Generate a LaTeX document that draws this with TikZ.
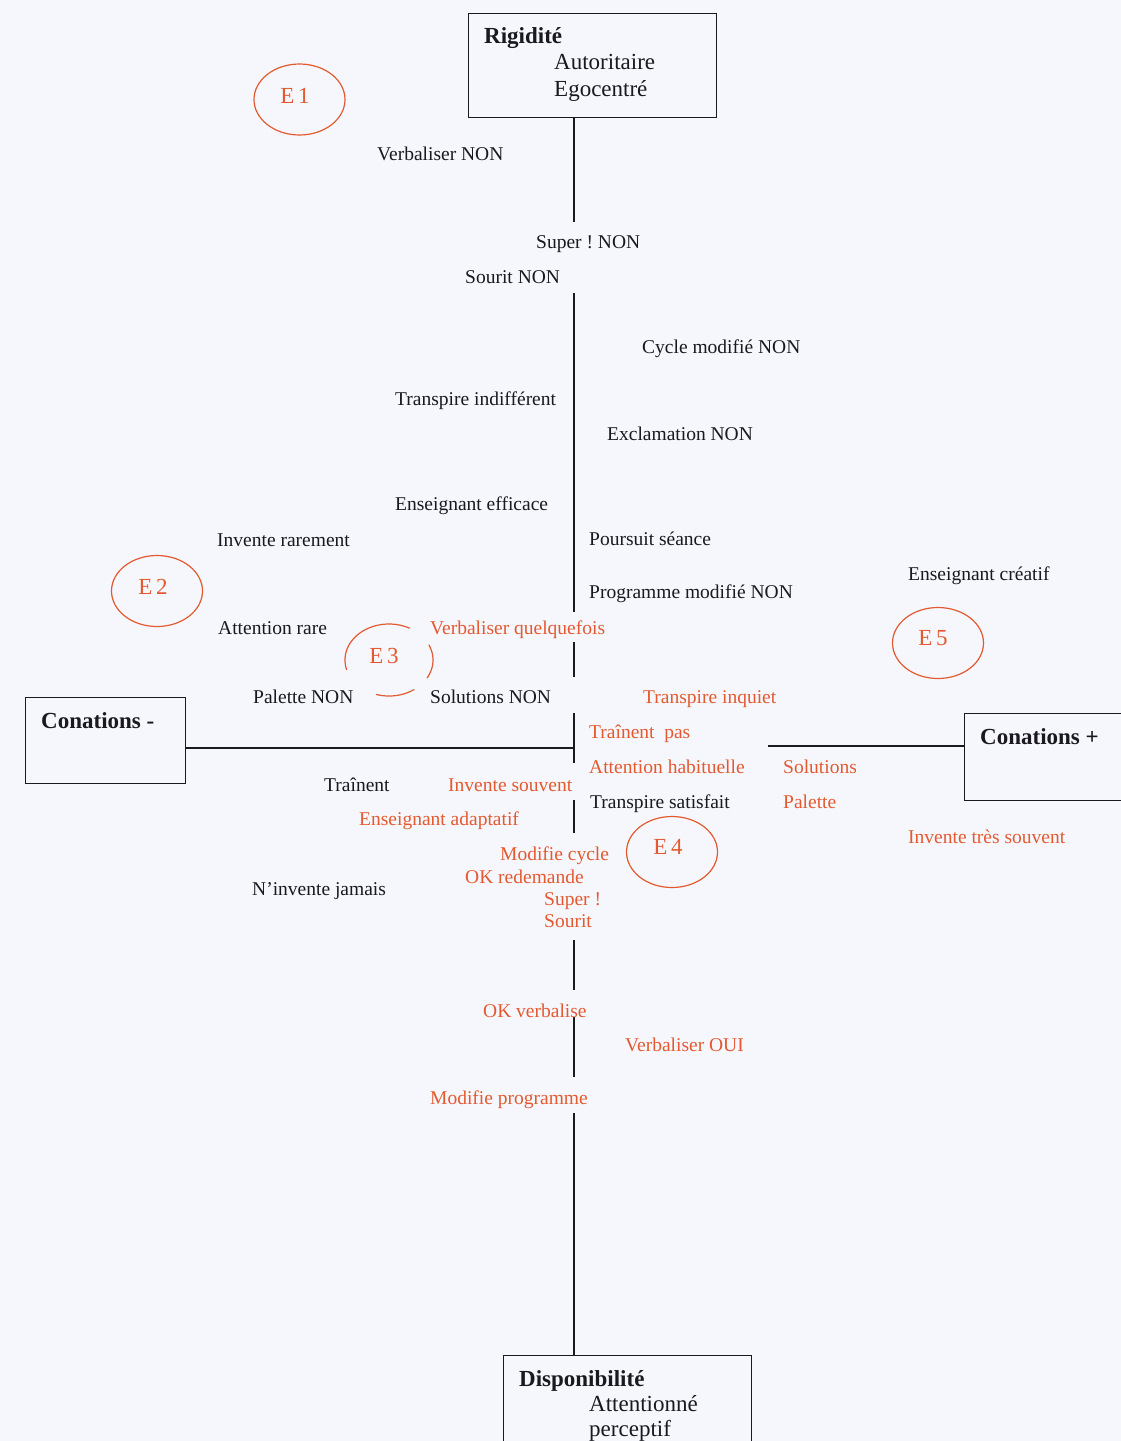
\documentclass[tikz,border=0pt]{standalone}
\usepackage{fontspec}
\setmainfont{Liberation Serif}
\usetikzlibrary{shapes.geometric,calc}
\definecolor{org}{RGB}{228,90,48}
\definecolor{bgc}{RGB}{245,247,252}
\definecolor{ink}{RGB}{25,25,30}
\frenchspacing
\begin{document}
\begin{tikzpicture}[x=1pt,y=-1pt,
  lbl/.style={anchor=base west,inner sep=0pt,font=\fontsize{19.5}{22}\selectfont},
  blk/.style={lbl,text=ink},
  orn/.style={lbl,text=org},
  boxt/.style={anchor=base west,inner sep=0pt,text=ink,font=\fontsize{23}{26}\selectfont},
  boxb/.style={boxt,font=\fontsize{23}{26}\selectfont\bfseries},
  frame/.style={draw=ink,line width=1.2pt,inner sep=0pt,anchor=north west},
  axis/.style={draw=ink,line width=1.3pt},
  ering/.style={draw=org,line width=1.2pt,ellipse,inner sep=0pt,minimum width=91,minimum height=71},
  etext/.style={inner sep=0pt,text=org,font=\fontsize{23}{26}\selectfont},
  earc/.style={draw=org,line width=1.2pt}
]
\clip (0,0) rectangle (1121,1441);
\fill[bgc] (0,0) rectangle (1121,1441);

% boxes
\node[frame,minimum width=248,minimum height=104] (rig) at (468,13) {};
\node[frame,minimum width=160,minimum height=86] (conm) at (25,697) {};
\node[frame,minimum width=170,minimum height=87] (conp) at (964,713) {};
\node[frame,minimum width=248,minimum height=120] (disp) at (503,1355) {};

\node[boxb] (rigT) at (484,43) {Rigidité};
\node[boxt] (rigA) at (554,69) {Autoritaire};
\node[boxt] (rigE) at (554,96) {Egocentré};
\node[boxb] (conmT) at (41,728) {Conations -};
\node[boxb] (conpT) at (980,744) {Conations +};
\node[boxb] (dispT) at (519,1386) {Disponibilité};
\node[boxt] (dispA) at (589,1411) {Attentionné};
\node[boxt] (dispP) at (589,1436) {perceptif};

% axis coordinates
\coordinate (ax) at (574,0);
\coordinate (v1) at (574,222);
\coordinate (v2a) at (574,293);
\coordinate (v2b) at (574,612);
\coordinate (v3a) at (574,642);
\coordinate (v3b) at (574,677);
\coordinate (v4a) at (574,713);
\coordinate (v4b) at (574,763);
\coordinate (v5a) at (574,800);
\coordinate (v5b) at (574,833);
\coordinate (v6a) at (574,940);
\coordinate (v6b) at (574,990);
\coordinate (v7a) at (574,1017);
\coordinate (v7b) at (574,1077);
\coordinate (v8a) at (574,1113);
\coordinate (hc) at (574,748);
\coordinate (hr) at (768,746);

\draw[axis] (rig.south -| ax) -- (v1);
\draw[axis] (v2a) -- (v2b);
\draw[axis] (v3a) -- (v3b);
\draw[axis] (v4a) -- (v4b);
\draw[axis] (v5a) -- (v5b);
\draw[axis] (v6a) -- (v6b);
\draw[axis] (v7a) -- (v7b);
\draw[axis] (v8a) -- (disp.north -| ax);
\draw[axis] (conm.east |- hc) -- (hc);
\draw[axis] (hr) -- (conp.west |- hr);

% ellipses
\node[ering] (e1) at (299.5,99.5) {};
\node[ering] (e2) at (157,591) {};
\node[ering] (e4) at (672,852) {};
\node[ering] (e5) at (938,643) {};
% E3: broken ellipse, three arcs (visual angles, y grows downward)
\draw[earc] plot[domain=62:196,samples=50,smooth] ({389+44*cos(\x)},{660-36*sin(\x)});
\draw[earc] plot[domain=-30:25,samples=20,smooth] ({389+44*cos(\x)},{660-36*sin(\x)});
\draw[earc] plot[domain=253:305,samples=20,smooth] ({389+44*cos(\x)},{660-36*sin(\x)});

\node[etext] (e1t) at (295,96) {E\,1};
\node[etext] (e2t) at (153,587) {E\,2};
\node[etext] (e3t) at (384,656) {E\,3};
\node[etext] (e4t) at (668,847) {E\,4};
\node[etext] (e5t) at (933,638) {E\,5};

% black labels
\node[blk] (t1) at (377,160) {Verbaliser NON};
\node[blk] (t2) at (536,248) {Super ! NON};
\node[blk] (t3) at (465,283) {Sourit NON};
\node[blk] (t4) at (642,353) {Cycle modifié NON};
\node[blk] (t5) at (395,405) {Transpire indifférent};
\node[blk] (t6) at (607,440) {Exclamation NON};
\node[blk] (t7) at (395,510) {Enseignant efficace};
\node[blk] (t8) at (217,546) {Invente rarement};
\node[blk] (t9) at (589,545) {Poursuit séance};
\node[blk] (t10) at (589,598) {Programme modifié NON};
\node[blk] (t11) at (908,580) {Enseignant créatif};
\node[blk] (t12) at (218,634) {Attention rare};
\node[blk] (t13) at (253,703) {Palette NON};
\node[blk] (t14) at (430,703) {Solutions NON};
\node[blk] (t15) at (324,791) {Traînent};
\node[blk] (t16) at (590,808) {Transpire satisfait};
\node[blk] (t17) at (252,895) {N’invente jamais};

% orange labels
\node[orn] (o1) at (430,634) {Verbaliser quelquefois};
\node[orn] (o2) at (643,703) {Transpire inquiet};
\node[orn] (o3) at (589,738) {Traînent~~pas};
\node[orn] (o4) at (589,773) {Attention habituelle};
\node[orn] (o5) at (783,773) {Solutions};
\node[orn] (o6) at (783,808) {Palette};
\node[orn] (o7) at (448,791) {Invente souvent};
\node[orn] (o8) at (359,825) {Enseignant adaptatif};
\node[orn] (o9) at (908,843) {Invente très souvent};
\node[orn] (o10) at (500,860) {Modifie cycle};
\node[orn] (o11) at (465,883) {OK redemande};
\node[orn] (o12) at (544,905) {Super !};
\node[orn] (o13) at (544,927) {Sourit};
\node[orn] (o14) at (483,1017) {OK verbalise};
\node[orn] (o15) at (625,1051) {Verbaliser OUI};
\node[orn] (o16) at (430,1104) {Modifie programme};
\end{tikzpicture}
\end{document}
